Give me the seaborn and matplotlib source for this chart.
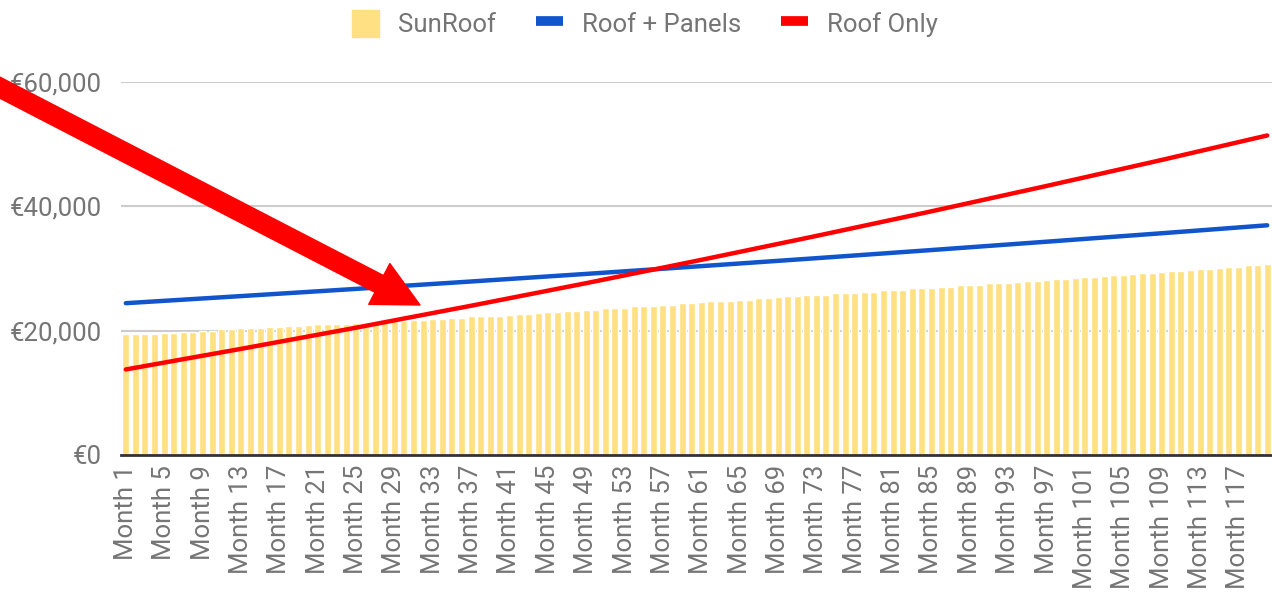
import matplotlib
matplotlib.use("Agg")
import matplotlib.pyplot as plt
from matplotlib.patches import Patch
from matplotlib.lines import Line2D
import seaborn as sns
import pandas as pd

# monthly SunRoof cost (bars)
sunroof = [
    19500, 19500, 19500, 19500, 19700, 19700, 19800, 19800, 20000, 20000, 20200, 20200,
    20500, 20500, 20500, 20600, 20600, 20800, 20800, 20900, 21000, 21000, 21100, 21100,
    21300, 21300, 21400, 21400, 21500, 21500, 21700, 21700, 21900, 21900, 22000, 22000,
    22300, 22300, 22400, 22400, 22500, 22700, 22700, 22800, 23000, 23000, 23200, 23200,
    23400, 23400, 23600, 23600, 23700, 23900, 23900, 24000, 24200, 24200, 24400, 24500,
    24600, 24700, 24800, 24800, 25000, 25000, 25200, 25200, 25400, 25500, 25500, 25700,
    25800, 25800, 26000, 26100, 26100, 26300, 26300, 26500, 26600, 26600, 26800, 26900,
    26900, 27100, 27100, 27300, 27400, 27400, 27600, 27700, 27700, 27900, 28000, 28000,
    28200, 28300, 28300, 28500, 28600, 28600, 28800, 28900, 28900, 29100, 29200, 29300,
    29500, 29600, 29600, 29800, 29900, 29900, 30100, 30200, 30300, 30500, 30600, 30700,
]
months = [f"Month {i}" for i in range(1, len(sunroof) + 1)]

# line series sampled yearly (month number -> value)
line_months = [1, 13, 25, 37, 49, 61, 73, 85, 97, 109, 120]
roof_panels = [24420, 25560, 26720, 27910, 29130, 30380, 31660, 32970, 34310, 35670, 36950]
roof_only = [13760, 17070, 20480, 24010, 27640, 31390, 35240, 39200, 43280, 47460, 51400]

tick_months = list(range(1, 121, 4))

sns.set_style("white")
plt.rcParams["font.family"] = ["Roboto", "DejaVu Sans"]

YELLOW = "#FFE082"
BLUE = "#1155CC"
RED = "#FF0000"
GREY = "#757575"

fig = plt.figure(figsize=(12.72, 5.97), dpi=100)
ax = fig.add_axes([121 / 1272, 1 - 455 / 597, 1 - 121 / 1272, (455 - 82) / 597])

bars = pd.DataFrame({"month": months, "cost": sunroof})
sns.barplot(data=bars, x="month", y="cost", color=YELLOW, saturation=1,
            width=0.73, ax=ax, zorder=2)

lines = pd.DataFrame({"pos": [m - 1 for m in line_months],
                      "panels": roof_panels, "only": roof_only})
sns.lineplot(data=lines, x="pos", y="panels", color=BLUE, lw=3.2, ax=ax, zorder=3)
sns.lineplot(data=lines, x="pos", y="only", color=RED, lw=3.2, ax=ax, zorder=4)

ax.set_xlim(-0.5, len(sunroof) - 0.5)
ax.set_ylim(0, 60000)
ax.set_yticks([0, 20000, 40000, 60000])
ax.set_yticklabels([f"€{v:,}" for v in [0, 20000, 40000, 60000]])
ax.set_xticks([m - 1 for m in tick_months])
ax.set_xticklabels([f"Month {m}" for m in tick_months], rotation=90)
ax.tick_params(axis="y", length=0, pad=14, labelsize=18.5, labelcolor=GREY)
ax.tick_params(axis="x", length=0, pad=7, labelsize=18.5, labelcolor=GREY)
ax.set_xlabel("")
ax.set_ylabel("")

ax.grid(axis="y", color="#CCCCCC", lw=1.5, zorder=0)
ax.set_axisbelow(True)
for s in ["top", "right", "left"]:
    ax.spines[s].set_visible(False)
ax.spines["bottom"].set_color("#333333")
ax.spines["bottom"].set_linewidth(2)
ax.spines["bottom"].set_zorder(5)

handles = [
    Patch(facecolor=YELLOW, edgecolor=YELLOW),
    Line2D([], [], color=BLUE, lw=7, solid_capstyle="butt"),
    Line2D([], [], color=RED, lw=7, solid_capstyle="butt"),
]
fig.legend(handles, ["SunRoof", "Roof + Panels", "Roof Only"], loc="upper center",
           bbox_to_anchor=(0.507, 1.022), ncol=3, frameon=False, fontsize=18.5,
           labelcolor=GREY, handlelength=1.05, handleheight=1.25,
           handletextpad=0.75, columnspacing=1.55)

# big red pointer arrow
ax.annotate("", xy=(420, 597 - 305), xycoords="figure pixels",
            xytext=(-40, 597 - 67), textcoords="figure pixels",
            arrowprops=dict(arrowstyle="simple,head_length=33,head_width=33,tail_width=13.5",
                            color=RED, mutation_scale=1, shrinkA=0, shrinkB=0),
            annotation_clip=False, zorder=10)

fig.savefig("out.png", dpi=100)
